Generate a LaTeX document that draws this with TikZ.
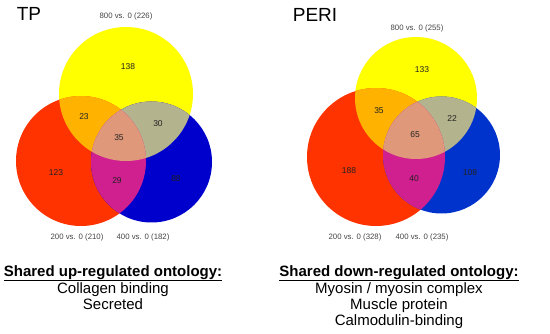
\documentclass[tikz,border=0pt]{standalone}
\usepackage{fontspec}
\setmainfont{Liberation Sans}
\usetikzlibrary{positioning}
\definecolor{vyellow}{HTML}{FFFF00}
\definecolor{vred}{HTML}{FF3300}
\definecolor{vblueA}{HTML}{0000CC}
\definecolor{vblueB}{HTML}{0033CC}
\definecolor{ryfill}{HTML}{FFB300}
\definecolor{ybfill}{HTML}{B3B38E}
\definecolor{rbfill}{HTML}{D02090}
\definecolor{allfill}{HTML}{E0987A}
\definecolor{ink}{HTML}{222222}
\definecolor{labelgray}{HTML}{444444}
\tikzset{
  count/.style={text=ink, font=\fontsize{8.5}{9}\selectfont, inner sep=0pt},
  setlabel/.style={text=labelgray, font=\fontsize{7.8}{8}\selectfont, inner sep=0pt},
  paneltitle/.style={text=black, font=\fontsize{19}{20}\selectfont, inner sep=0pt},
  ontology/.style={text=black, align=center, inner sep=0pt,
    font=\fontsize{15}{16}\selectfont}
}

\begin{document}
\begin{tikzpicture}[x=1pt,y=-1pt]
  \useasboundingbox (0,0) rectangle (550,334);

  % -------------------------------------------------------------------
  % TP: 800 (yellow), 200 (red), 400 (blue)
  \def\ytp{(126,94) circle (67)}
  \def\rtp{(81,161) circle (65)}
  \def\btp{(151.5,162) circle (60.5)}
  \fill[vyellow] \ytp;
  \fill[vred] \rtp;
  \fill[vblueA] \btp;
  \begin{scope}
    \clip \ytp;
    \fill[ryfill] \rtp;
    \fill[ybfill] \btp;
  \end{scope}
  \begin{scope}
    \clip \rtp;
    \fill[rbfill] \btp;
    \clip \btp;
    \fill[allfill] \ytp;
  \end{scope}

  \node[paneltitle] (tpTitle) at (29,14) {TP};
  \node[setlabel] (tpTop) at (126,16) {800 vs. 0 (226)};
  \node[setlabel] (tpLeft) at (77,237) {200 vs. 0 (210)};
  \node[setlabel] (tpRight) at (143,237) {400 vs. 0 (182)};
  \node[count] (tpY) at (128,67) {138};
  \node[count] (tpRY) at (84,117) {23};
  \node[count] (tpYB) at (158,124) {30};
  \node[count] (tpAll) at (119,138) {35};
  \node[count] (tpR) at (56,173) {123};
  \node[count] (tpRB) at (117,181) {29};
  \node[count] (tpB) at (176,179) {88};

  % -------------------------------------------------------------------
  % PERI: 800 (yellow), 200 (red), 400 (blue)
  \def\yperi{(416,98) circle (61)}
  \def\rperi{(376,157) circle (69)}
  \def\bperi{(441.5,155) circle (58.5)}
  \fill[vyellow] \yperi;
  \fill[vred] \rperi;
  \fill[vblueB] \bperi;
  \begin{scope}
    \clip \yperi;
    \fill[ryfill] \rperi;
    \fill[ybfill] \bperi;
  \end{scope}
  \begin{scope}
    \clip \rperi;
    \fill[rbfill] \bperi;
    \clip \bperi;
    \fill[allfill] \yperi;
  \end{scope}

  \node[paneltitle] (periTitle) at (315,15) {PERI};
  \node[setlabel] (periTop) at (417,28) {800 vs. 0 (255)};
  \node[setlabel] (periLeft) at (355,237) {200 vs. 0 (328)};
  \node[setlabel] (periRight) at (422,237) {400 vs. 0 (235)};
  \node[count] (periY) at (422,70) {133};
  \node[count] (periRY) at (379,111) {35};
  \node[count] (periYB) at (452,119) {22};
  \node[count] (periAll) at (415,135) {65};
  \node[count] (periR) at (349,171) {188};
  \node[count] (periRB) at (414,179) {40};
  \node[count] (periB) at (470,173) {108};

  % -------------------------------------------------------------------
  % Shared ontology terms
  \node[ontology, anchor=north] (upTerms) at (113,265)
    {\textbf{\underline{Shared up-regulated ontology:}}\\
     Collagen binding\\Secreted};
  \node[ontology, anchor=north] (downTerms) at (399,265)
    {\textbf{\underline{Shared down-regulated ontology:}}\\
     Myosin / myosin complex\\Muscle protein\\Calmodulin-binding};
\end{tikzpicture}
\end{document}
